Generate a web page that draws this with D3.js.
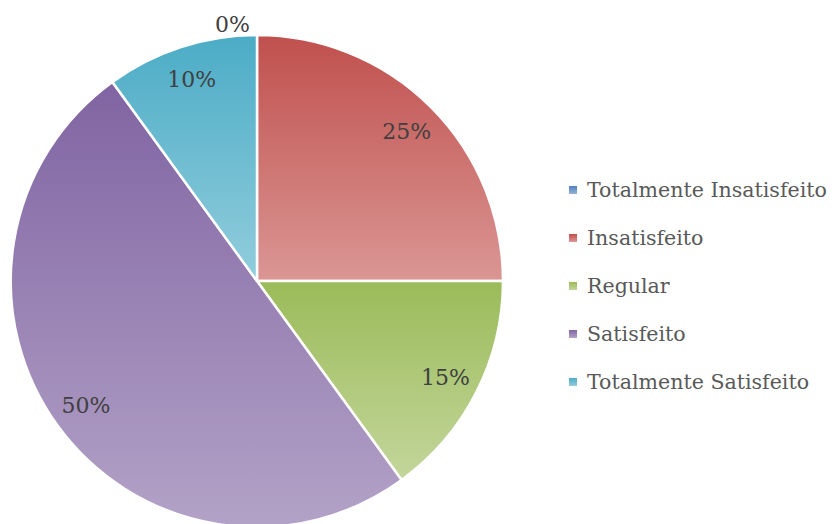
<!DOCTYPE html>
<html>
<head>
<meta charset="utf-8">
<script src="https://cdn.jsdelivr.net/npm/d3@7"></script>
<style>
  body { margin: 0; background: #fff; }
  svg { display: block; }
</style>
</head>
<body>
<div id="chart"></div>
<script>
// data
const categories = ["Totalmente Insatisfeito", "Insatisfeito", "Regular", "Satisfeito", "Totalmente Satisfeito"];
const values = [0, 25, 15, 50, 10];
const topColors = ["#4F81BD", "#C0504D", "#9BBB59", "#8064A2", "#4BACC6"];
const bottomColors = ["#95B3D7", "#DA9694", "#C3D69B", "#B3A2C7", "#92CDDC"];

const width = 834, height = 524;
const cx = 257, cy = 281, radius = 246;
const font = "'DejaVu Serif', serif";

const svg = d3.select("#chart").append("svg")
    .attr("width", width)
    .attr("height", height)
    .attr("font-family", font);

// one vertical gradient per slice, dark on top
const defs = svg.append("defs");
categories.forEach((c, i) => {
    let g = defs.append("linearGradient")
        .attr("id", "grad" + i)
        .attr("x1", 0).attr("y1", 0).attr("x2", 0).attr("y2", 1);
    g.append("stop").attr("offset", "0%").attr("stop-color", topColors[i]);
    g.append("stop").attr("offset", "100%").attr("stop-color", bottomColors[i]);
});

const data = categories.map((c, i) => ({ name: c, value: values[i], i: i }));
const total = d3.sum(values);

const pie = d3.pie().sort(null).value(d => d.value);
const arcs = pie(data);

const arc = d3.arc().innerRadius(0).outerRadius(radius);
const labelArc = d3.arc().innerRadius(radius * 0.86).outerRadius(radius * 0.86);

const g = svg.append("g").attr("transform", `translate(${cx},${cy})`);

g.selectAll("path")
    .data(arcs.filter(d => d.data.value > 0))
    .join("path")
        .attr("d", arc)
        .attr("fill", d => `url(#grad${d.data.i})`)
        .attr("stroke", "#fff")
        .attr("stroke-width", 2.5)
        .attr("stroke-linejoin", "round");

// legend
const legend = svg.append("g").attr("transform", "translate(569,190)");
const row = legend.selectAll("g")
    .data(data)
    .join("g")
        .attr("transform", (d, i) => `translate(0,${i * 48})`);

row.append("rect")
    .attr("x", 0).attr("y", -4)
    .attr("width", 8).attr("height", 8)
    .attr("fill", d => `url(#grad${d.i})`);

let legendText = row.append("text")
    .attr("x", 18)
    .attr("dy", "0.35em")
    .attr("fill", "#595959")
    .attr("font-size", 24)
    .text(d => d.name);

// DejaVu Serif runs wide, so fit the longest entry into the ~240px the original uses
let widest = d3.max(legendText.nodes(), n => n.getComputedTextLength());
let fontSize = Math.min(24, 24 * 240 / widest);
legendText.attr("font-size", fontSize);

const fmt = v => Math.round(v / total * 100) + "%";

g.selectAll("text.lbl")
    .data(arcs)
    .join("text")
        .attr("class", "lbl")
        .attr("transform", d => {
            if (d.data.value === 0) return `translate(-7,${-radius - 11})`; // zero slice sits above the top
            return `translate(${labelArc.centroid(d)})`;
        })
        .attr("text-anchor", d => d.data.value === 0 ? "end" : "middle")
        .attr("dy", "0.35em")
        .attr("fill", "#404040")
        .attr("font-size", 22)
        .text(d => fmt(d.data.value));
</script>
</body>
</html>
